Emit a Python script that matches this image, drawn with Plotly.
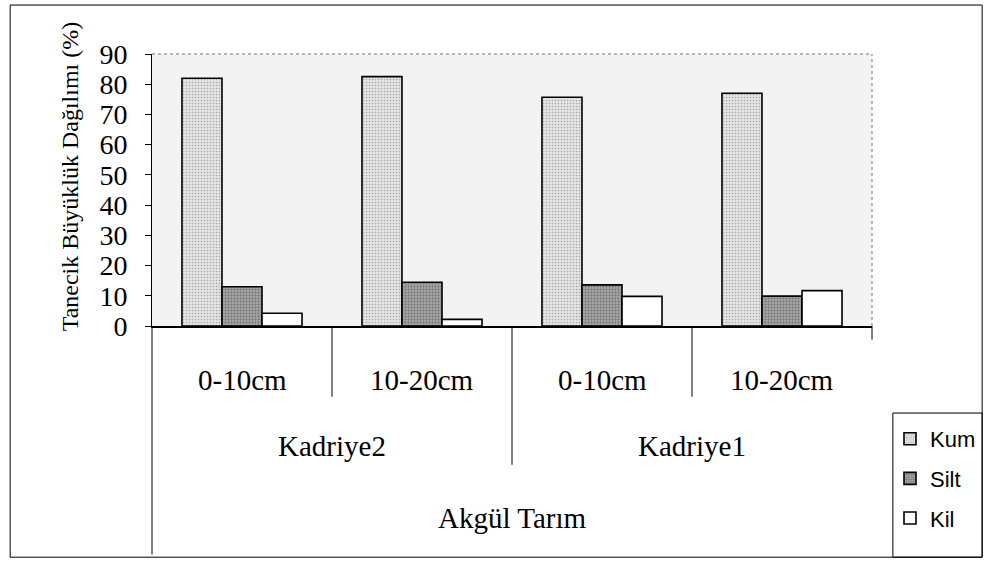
import plotly.graph_objects as go

# ---- data ----
depths = ["0-10cm", "10-20cm", "0-10cm", "10-20cm"]
sites = ["Kadriye2", "Kadriye2", "Kadriye1", "Kadriye1"]
farm = "Akgül Tarım"
kum = [82, 82.5, 75.7, 77]
silt = [13, 14.5, 13.6, 9.9]
kil = [4.2, 2.2, 9.8, 11.7]
yticks = [0, 10, 20, 30, 40, 50, 60, 70, 80, 90]
ytitle = "Tanecik Büyüklük Dağılımı (%)"

xs = list(range(len(depths)))
SERIF = "Liberation Serif"
SANS = "Liberation Sans"

fig = go.Figure()
fig.add_trace(go.Bar(
    name="Kum", x=xs, y=kum, legendgroup="a",
    marker=dict(color="#e2e2e2", line=dict(color="black", width=1.6),
                pattern=dict(shape=".", bgcolor="#e4e4e4", fgcolor="#6e6e6e",
                             size=3, solidity=0.25)),
))
fig.add_trace(go.Bar(
    name="Silt", x=xs, y=silt, legendgroup="b",
    marker=dict(color="#a0a0a0", line=dict(color="black", width=1.6),
                pattern=dict(shape=".", bgcolor="#a4a4a4", fgcolor="#404040",
                             size=3, solidity=0.35)),
))
fig.add_trace(go.Bar(
    name="Kil", x=xs, y=kil, legendgroup="c",
    marker=dict(color="white", line=dict(color="black", width=1.6)),
))

shapes = []
# plot area dotted top/right border
shapes.append(dict(type="line", xref="paper", yref="paper", x0=0, x1=1, y0=1, y1=1,
                   line=dict(color="#777", width=1, dash="dot")))
shapes.append(dict(type="line", xref="paper", yref="paper", x0=1, x1=1, y0=0, y1=1,
                   line=dict(color="#777", width=1, dash="dot")))
# category dividers
for i in range(len(depths) - 1):
    depth_to = -0.26 if sites[i] == sites[i + 1] else -0.51
    shapes.append(dict(type="line", xref="x", yref="paper", x0=i + 0.5, x1=i + 0.5,
                       y0=0, y1=depth_to, line=dict(color="black", width=1)))
# left axis extension and right end tick
shapes.append(dict(type="line", xref="paper", yref="paper", x0=0, x1=0, y0=0, y1=-0.84,
                   line=dict(color="black", width=1)))
shapes.append(dict(type="line", xref="paper", yref="paper", x0=1, x1=1, y0=0, y1=-0.05,
                   line=dict(color="black", width=1)))
# outer frame
shapes.append(dict(type="rect", xref="paper", yref="paper", x0=-0.197, x1=1.153,
                   y0=-0.85, y1=1.18, line=dict(color="black", width=1)))
# legend box (merged with the frame on the right and bottom)
shapes.append(dict(type="rect", xref="paper", yref="paper", x0=1.029, x1=1.153,
                   y0=-0.85, y1=-0.32, line=dict(color="black", width=1)))

annotations = []
for i, d in enumerate(depths):
    annotations.append(dict(x=i, y=-0.2, xref="x", yref="paper", text=d, showarrow=False,
                            font=dict(family=SERIF, size=29, color="black"),
                            xanchor="center", yanchor="middle"))
seen = []
for s in sites:
    if s not in seen:
        seen.append(s)
for s in seen:
    idx = [i for i, v in enumerate(sites) if v == s]
    annotations.append(dict(x=sum(idx) / len(idx), y=-0.44, xref="x", yref="paper", text=s,
                            showarrow=False, font=dict(family=SERIF, size=29, color="black"),
                            xanchor="center", yanchor="middle"))
annotations.append(dict(x=(xs[0] + xs[-1]) / 2, y=-0.705, xref="x", yref="paper", text=farm,
                        showarrow=False, font=dict(family=SERIF, size=29, color="black"),
                        xanchor="center", yanchor="middle"))
annotations.append(dict(x=-0.114, y=0.55, xref="paper", yref="paper", text=ytitle,
                        textangle=-90, showarrow=False,
                        font=dict(family=SERIF, size=24, color="black"),
                        xanchor="center", yanchor="middle"))

fig.update_layout(
    width=986, height=570,
    margin=dict(l=152, r=114, t=54, b=244, autoexpand=False),
    paper_bgcolor="white", plot_bgcolor="#f3f3f3",
    barmode="group", bargap=0.333, bargroupgap=0,
    showlegend=True,
    legend=dict(x=1.025, y=-0.338, xanchor="left", yanchor="top",
                font=dict(family=SANS, size=22, color="black"),
                borderwidth=0, bgcolor="rgba(0,0,0,0)",
                tracegroupgap=8, itemwidth=30),
    xaxis=dict(range=[-0.5, len(depths) - 0.5], showticklabels=False, ticks="",
               showgrid=False, zeroline=False, showline=True, linecolor="black", linewidth=1.5,
               fixedrange=True),
    yaxis=dict(range=[0, 90], tickvals=yticks, showgrid=False, zeroline=False,
               showline=True, linecolor="black", linewidth=1, ticks="outside", ticklen=6,
               tickcolor="black", ticklabelstandoff=12,
               tickfont=dict(family=SERIF, size=28, color="black")),
    shapes=shapes, annotations=annotations,
)

fig.write_html("out.html", config={"displayModeBar": False},
               post_script="document.body.style.margin='0';document.body.style.overflow='hidden';")
